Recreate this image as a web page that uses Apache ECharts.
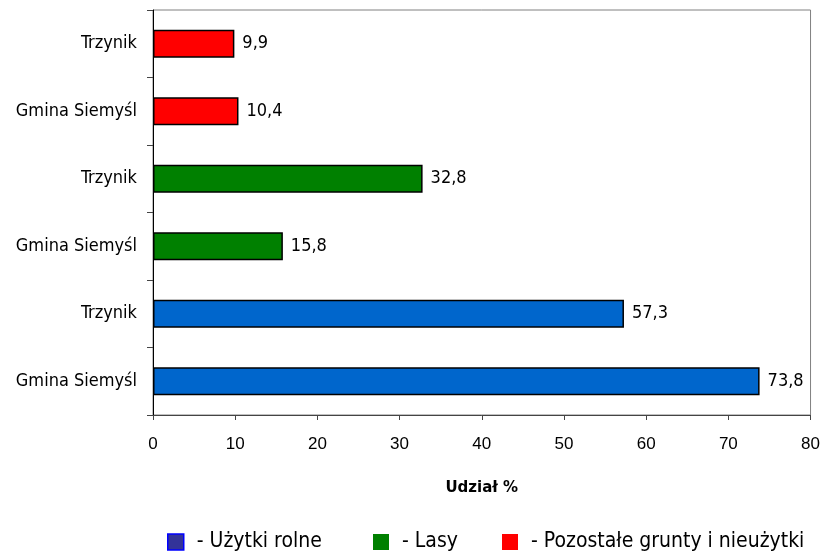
<!DOCTYPE html>
<html>
<head>
<meta charset="utf-8">
<script src="https://cdn.jsdelivr.net/npm/echarts@6/dist/echarts.min.js"></script>
<style>
html,body{margin:0;padding:0;background:#fff;}
#chart{width:823px;height:555px;}
</style>
</head>
<body>
<div id="chart"></div>
<script>
const categories = ["Gmina Siemyśl", "Trzynik", "Gmina Siemyśl", "Trzynik", "Gmina Siemyśl", "Trzynik"];
const seriesNames = ["Użytki rolne", "Lasy", "Pozostałe grunty i nieużytki"];
const uzytkiRolne = [73.8, 57.3, null, null, null, null];
const lasy = [null, null, 15.8, 32.8, null, null];
const pozostale = [null, null, null, null, 10.4, 9.9];
const xTicks = [0, 10, 20, 30, 40, 50, 60, 70, 80];
const barColors = ["#0066CC", "#008000", "#FF0000"];

const chart = echarts.init(document.getElementById('chart'), null, {renderer: 'canvas'});
const font = "'DejaVu Sans Condensed', 'Liberation Sans', sans-serif";

function mkSeries(name, data, color) {
  return {
    name: name,
    type: 'bar',
    stack: 'all',
    data: data,
    barWidth: 28,
    itemStyle: {color: color, borderColor: '#000', borderWidth: 1.5},
    label: {
      show: true,
      position: 'right',
      distance: 8,
      fontFamily: font,
      fontSize: 18,
      color: '#000',
      formatter: p => (p.value == null ? '' : String(p.value).replace('.', ','))
    }
  };
}

const legendIcons = [
  {color: '#333399', borderColor: '#0000FF', borderWidth: 1.5},
  {color: '#008000', borderColor: '#008000', borderWidth: 0},
  {color: '#FF0000', borderColor: '#FF0000', borderWidth: 0}
];
const legendLeft = [167, 373, 502];

const legends = seriesNames.map((n, i) => ({
  top: 531,
  left: legendLeft[i],
  padding: 0,
  itemWidth: 16,
  itemHeight: 16,
  textStyle: {fontFamily: font, fontSize: 21, lineHeight: 22, color: '#000', padding: [0, 0, 0, 8]},
  formatter: name => '- ' + name,
  data: [{name: n, icon: 'rect', itemStyle: legendIcons[i]}]
}));

chart.setOption({
  animation: false,
  backgroundColor: '#fff',
  grid: {left: 153, right: 10, top: 10, bottom: 140, show: true, borderColor: '#808080', borderWidth: 1},
  xAxis: {
    type: 'value',
    min: xTicks[0],
    max: xTicks[xTicks.length - 1],
    interval: 10,
    name: 'Udział %',
    nameLocation: 'middle',
    nameGap: 66,
    nameTextStyle: {fontFamily: "'DejaVu Sans', sans-serif", fontSize: 15, fontWeight: 'bold', color: '#000'},
    axisLine: {show: true, lineStyle: {color: '#444', width: 1}},
    axisTick: {show: true, length: 5, lineStyle: {color: '#444'}},
    axisLabel: {fontFamily: "'Liberation Sans', Arial, sans-serif", fontSize: 17, color: '#000', margin: 21},
    splitLine: {show: false}
  },
  yAxis: {
    type: 'category',
    data: categories,
    axisLine: {show: true, lineStyle: {color: '#000', width: 1}},
    axisTick: {show: true, length: 6, lineStyle: {color: '#444'}},
    axisLabel: {fontFamily: font, fontSize: 18, color: '#000', margin: 16},
    splitLine: {show: false}
  },
  legend: legends,
  series: [
    mkSeries(seriesNames[0], uzytkiRolne, barColors[0]),
    mkSeries(seriesNames[1], lasy, barColors[1]),
    mkSeries(seriesNames[2], pozostale, barColors[2])
  ]
});
</script>
</body>
</html>
